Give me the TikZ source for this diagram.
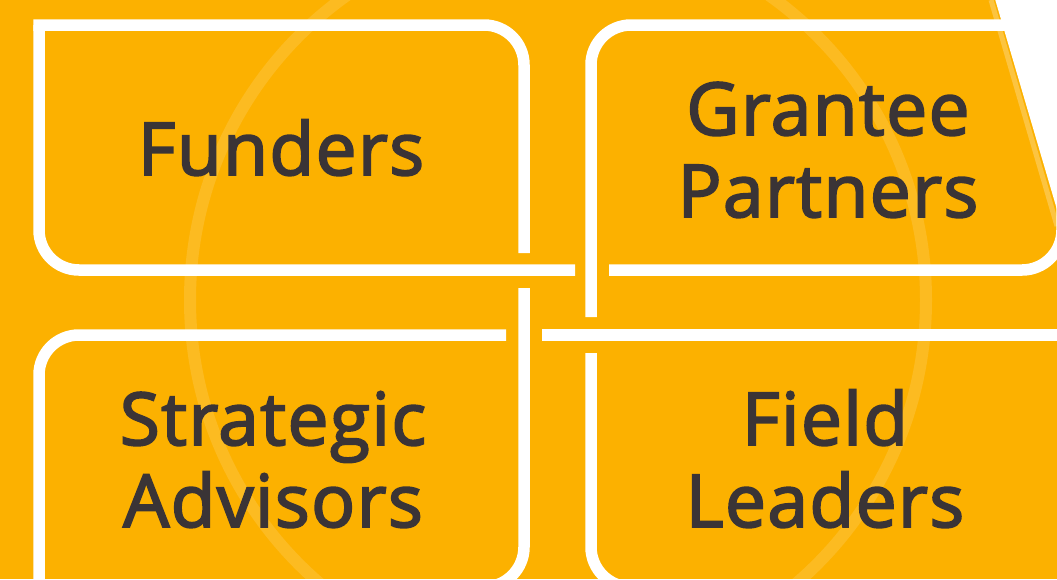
\documentclass[tikz,border=0pt]{standalone}
\usepackage{fontspec}
\newfontfamily\labelfont{Open Sans}[FakeBold=2.6, LetterSpace=2]
\definecolor{amber}{RGB}{252,177,0}
\definecolor{inkgray}{RGB}{58,52,54}
\tikzset{
  frame/.style={white, line width=11.5pt, rounded corners=40pt},
  boxtext/.style={text=inkgray, font=\labelfont\fontsize{73}{82}\selectfont, align=center, anchor=base},
}

\begin{document}
\begin{tikzpicture}[x=1pt, y=-1pt]
    \useasboundingbox (0,0) rectangle (1057,579);
    % Background
    \fill[amber] (0,0) rectangle (1057,579);
    \draw[white, opacity=0.13, line width=12pt] (558,300) ellipse [x radius=368, y radius=372];

    % Funders box
    \draw[frame] (33.25,25) -- (524,25) -- (524,253);
    \draw[frame] (39,25) -- (39,270) -- (575,270);

    % Grantee Partners box
    \draw[frame] (591,317) -- (591,25) -- (1080,25);
    \draw[frame] (609,270) -- (1062,270) -- (1062,150);

    % Strategic Advisors box
    \draw[frame] (506,335) -- (39,335) -- (39,600);
    \draw[frame] (524,288) -- (524,587) -- (400,587);

    % Field Leaders box
    \draw[frame] (542,335) -- (1080,335);
    \draw[frame] (591,353) -- (591,587) -- (800,587);

    % Cut corner
    \fill[white] (995,-1) -- (1058,-1) -- (1058,213) -- cycle;
    \draw[white, opacity=0.25, line width=5pt] (991,0) -- (1057,226);

    % Labels
    \node[boxtext] (funders) at (281,175) {Funders};
    \node[boxtext] (grantee) at (828,217) {Grantee\\Partners};
    \node[boxtext] (advisors) at (273,527) {Strategic\\Advisors};
    \node[boxtext] (leaders) at (825,527) {Field\\Leaders};
\end{tikzpicture}
\end{document}
